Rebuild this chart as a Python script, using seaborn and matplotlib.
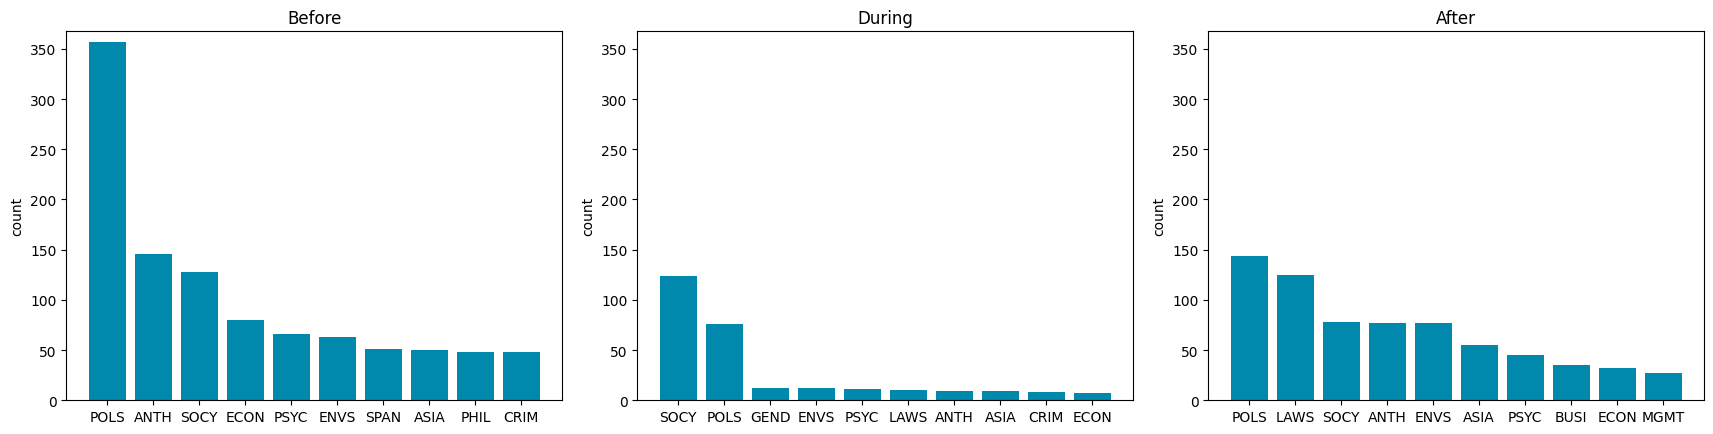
import pandas as pd
import seaborn as sns
import matplotlib
matplotlib.use("Agg")
import matplotlib.pyplot as plt

# data
before_depts = ["POLS", "ANTH", "SOCY", "ECON", "PSYC", "ENVS", "SPAN", "ASIA", "PHIL", "CRIM"]
before_counts = [357, 146, 128, 80, 66, 63, 51, 50, 48, 48]

during_depts = ["SOCY", "POLS", "GEND", "ENVS", "PSYC", "LAWS", "ANTH", "ASIA", "CRIM", "ECON"]
during_counts = [124, 76, 12, 12, 11, 10, 9, 9, 8, 7]

after_depts = ["POLS", "LAWS", "SOCY", "ANTH", "ENVS", "ASIA", "PSYC", "BUSI", "ECON", "MGMT"]
after_counts = [144, 125, 78, 77, 77, 55, 45, 35, 32, 27]

panels = [
    ("Before", before_depts, before_counts),
    ("During", during_depts, during_counts),
    ("After", after_depts, after_counts),
]

bar_color = "#0088ad"

fig, axes = plt.subplots(1, 3, figsize=(17.13, 4.35), dpi=100)
fig.subplots_adjust(left=0.0387, right=0.9949, top=0.9257, bottom=0.0775, wspace=0.151)

for ax, (title, depts, counts) in zip(axes, panels):
    df = pd.DataFrame({"dept": depts, "count": counts})
    sns.barplot(data=df, x="dept", y="count", color=bar_color, saturation=1, width=0.8, ax=ax)
    ax.set_title(title)
    ax.set_xlabel("")
    ax.set_ylabel("count")
    ax.set_xlim(-0.89, len(depts) - 1 + 0.89)
    ax.set_ylim(0, 367.5)

fig.savefig("out.png", dpi=100)
